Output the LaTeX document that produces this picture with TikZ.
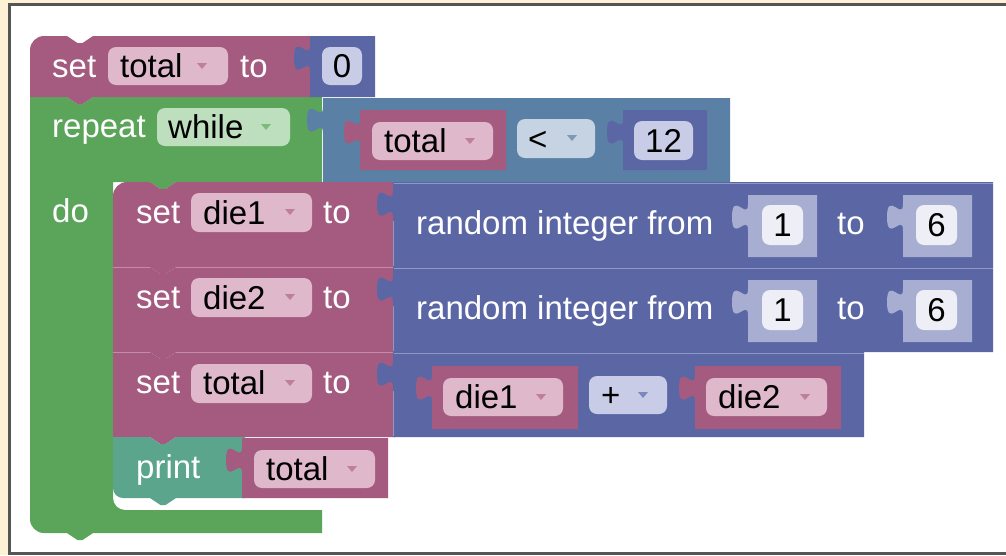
\documentclass[tikz,border=0pt]{standalone}
\usepackage{fontspec}
\setmainfont{Liberation Sans}
\definecolor{bgcream}{HTML}{FDF1D6}
\definecolor{frame}{HTML}{555555}
\definecolor{varc}{HTML}{A55B80}
\definecolor{varlight}{HTML}{C48AA6}
\definecolor{varfield}{HTML}{DFB8CB}
\definecolor{vararrow}{HTML}{BE7E9D}
\definecolor{mathc}{HTML}{5B67A5}
\definecolor{mathlight}{HTML}{8E97C6}
\definecolor{mathfield}{HTML}{C8CCE6}
\definecolor{matharrow}{HTML}{7C86BF}
\definecolor{logicc}{HTML}{5B80A5}
\definecolor{logicfield}{HTML}{C6D3E3}
\definecolor{logicarrow}{HTML}{7E99B8}
\definecolor{loopc}{HTML}{5BA55B}
\definecolor{loopfield}{HTML}{BEDFBE}
\definecolor{looparrow}{HTML}{7BBB7B}
\definecolor{textc}{HTML}{5BA58C}
\definecolor{shadowc}{HTML}{A8AED2}
\definecolor{shadowfield}{HTML}{EEEFF6}
\begin{document}
\begin{tikzpicture}[x=1pt,y=-1pt,
  font=\fontsize{33}{38}\selectfont,
  lbl/.style={anchor=base west, inner sep=0pt, text=white},
  fld/.style={anchor=base west, inner sep=0pt, text=black},
  num/.style={anchor=base, inner sep=0pt, text=black},
  fieldbox/.style={rounded corners=8pt},
  hilite/.style={line width=1pt},
  % notch cut into a top edge (left to right) / tab below a bottom edge (right to left)
  notch/.style n args={2}{insert path={-- (#1,#2) -- ({#1+10.5},{#2+7}) -- ({#1+15.5},{#2+7}) -- ({#1+26},#2)}},
  notchback/.style n args={2}{insert path={-- ({#1+26},#2) -- ({#1+15.5},{#2+7}) -- ({#1+10.5},{#2+7}) -- (#1,#2)}},
  % puzzle tab on the left edge of a value block, walked downward
  tab/.style n args={2}{insert path={-- (#1,#2) .. controls (#1,{#2+17.5}) and ({#1-16},{#2-14}) .. ({#1-16},{#2+13.1}) .. controls ({#1-16},{#2+40.25}) and (#1,{#2+8.75}) .. (#1,{#2+26.25})}},
]
\useasboundingbox (0,0) rectangle (1006,555);

% page
\fill[bgcream] (0,0) rectangle (1006,555);
\filldraw[fill=white, draw=frame, line width=3pt] (9.5,4.5) rectangle (1015,553.5);

% repeat while loop (C shape)
\fill[loopc] (30,97) [notch={67}{97}] -- (322,97) -- (322,182) [notchback={150}{182}] -- (113,182)
  -- (113,498) .. controls (113,504.6) and (118.4,510) .. (125,510) -- (322,510) -- (322,533)
  [notchback={67}{533}] -- (44,533) .. controls (36.3,533) and (30,526.7) .. (30,519) -- cycle;

% set total to 0
\fill[varc] (30,50) .. controls (30,42.3) and (36.3,36) .. (44,36) [notch={67}{36}] -- (312,36) -- (312,97)
  [notchback={67}{97}] -- (30,97) -- cycle;
\fill[mathc] (375,36) -- (310,36) [tab={310}{45}] -- (310,97) -- (375,97) -- cycle;
\fill[varfield, fieldbox] (108,47) rectangle (228,85);
\fill[vararrow] (197,63) -- (207,63) -- (202,69) -- cycle;
\fill[mathfield, fieldbox] (322,47) rectangle (362,85);
\node[lbl] (set0) at (52,77) {set};
\node[fld] (var0) at (120,77) {total};
\node[lbl] (to0) at (240,77) {to};
\node[num] (zero) at (342,77) {0};

% loop header
\fill[loopfield, fieldbox] (157,108) rectangle (290,146);
\fill[looparrow] (261,124) -- (271,124) -- (266,130) -- cycle;
\node[lbl] (repeat) at (52,137) {repeat};
\node[fld] (while) at (168,138) {while};
\node[lbl] (do) at (52,222) {do};

% condition: total < 12
\fill[logicc] (730,98) -- (323,98) [tab={323}{107}] -- (323,182) -- (730,182) -- cycle;
\fill[varc] (506,110) -- (360,110) [tab={360}{119}] -- (360,170) -- (506,170) -- cycle;
\fill[varfield, fieldbox] (372,122) rectangle (493,160);
\fill[vararrow] (465,138) -- (475,138) -- (470,144) -- cycle;
\fill[logicfield, fieldbox] (517,119) rectangle (595,158);
\fill[logicarrow] (567,135) -- (577,135) -- (572,141) -- cycle;
\fill[mathc] (707,110) -- (623,110) [tab={623}{119}] -- (623,170) -- (707,170) -- cycle;
\fill[mathfield, fieldbox] (634,121) rectangle (693,160);
\node[fld] (cmpvar) at (384,152) {total};
\node[fld] (lt) at (528,150) {<};
\node[num] (twelve) at (663.5,152) {12};

% set die1 / die2 to random integer from 1 to 6
\fill[varc] (113,196) .. controls (113,188.3) and (119.3,182) .. (127,182) [notch={150}{182}] -- (395,182) -- (395,267)
  [notchback={150}{267}] -- (113,267) -- cycle;
\fill[varc] (113,267) [notch={150}{267}] -- (395,267) -- (395,352) [notchback={150}{352}] -- (113,352) -- cycle;
\foreach \dy/\v in {0/1,85/2} {
  \fill[mathc] (993,182+\dy) -- (393,182+\dy) [tab={393}{191+\dy}] -- (393,267+\dy) -- (993,267+\dy) -- cycle;
  \draw[hilite, mathlight] (393.5,183+\dy) -- (993,183+\dy);
  \draw[hilite, mathlight] (393.5,221+\dy) -- (393.5,266+\dy);
  \fill[varfield, fieldbox] (191,193+\dy) rectangle (312,232+\dy);
  \fill[vararrow] (285,209+\dy) -- (295,209+\dy) -- (290,215+\dy) -- cycle;
  \fill[shadowc] (817,195+\dy) -- (748,195+\dy) [tab={748}{204+\dy}] -- (748,257+\dy) -- (817,257+\dy) -- cycle;
  \fill[shadowfield, fieldbox] (762,205+\dy) rectangle (803,245+\dy);
  \fill[shadowc] (972,195+\dy) -- (903,195+\dy) [tab={903}{204+\dy}] -- (903,257+\dy) -- (972,257+\dy) -- cycle;
  \fill[shadowfield, fieldbox] (916,205+\dy) rectangle (957,245+\dy);
  \node[lbl] (set\v) at (136,223+\dy) {set};
  \node[fld] (die\v) at (203,224+\dy) {die\v};
  \node[lbl] (to\v) at (323,223+\dy) {to};
  \node[lbl] (rand\v) at (416,234+\dy) {random integer from};
  \node[num] (lo\v) at (782.5,236+\dy) {1};
  \node[lbl] (tohi\v) at (837,234+\dy) {to};
  \node[num] (hi\v) at (936.5,236+\dy) {6};
}

% set total to die1 + die2
\fill[varc] (113,352) [notch={150}{352}] -- (395,352) -- (395,437) [notchback={150}{437}] -- (113,437) -- cycle;
\fill[mathc] (864,352) -- (393,352) [tab={393}{361}] -- (393,437) -- (864,437) -- cycle;
\draw[hilite, mathlight] (393.5,353) -- (864,353);
\draw[hilite, mathlight] (393.5,391) -- (393.5,436);
\draw[hilite, varlight] (113,267.5) -- (150,267.5) (176,267.5) -- (393,267.5);
\draw[hilite, varlight] (113,352.5) -- (150,352.5) (176,352.5) -- (393,352.5);
\fill[varfield, fieldbox] (191,364) rectangle (312,403);
\fill[vararrow] (285,380) -- (295,380) -- (290,386) -- cycle;
\fill[varc] (578,366) -- (432,366) [tab={432}{375}] -- (432,429) -- (578,429) -- cycle;
\fill[varfield, fieldbox] (443,378) rectangle (563,416);
\fill[vararrow] (536,394) -- (546,394) -- (541,400) -- cycle;
\fill[mathfield, fieldbox] (589,376) rectangle (667,414);
\fill[matharrow] (638,392) -- (648,392) -- (643,398) -- cycle;
\fill[varc] (841,366) -- (695,366) [tab={695}{375}] -- (695,429) -- (841,429) -- cycle;
\fill[varfield, fieldbox] (706,378) rectangle (827,416);
\fill[vararrow] (800,394) -- (810,394) -- (805,400) -- cycle;
\node[lbl] (set3) at (136,393) {set};
\node[fld] (total3) at (203,394) {total};
\node[lbl] (to3) at (323,393) {to};
\node[fld] (adda) at (455,408) {die1};
\node[fld] (plus) at (601,406) {+};
\node[fld] (addb) at (718,408) {die2};

% print total
\fill[textc] (113,437) [notch={150}{437}] -- (245,437) -- (245,498) [notchback={150}{498}] -- (123,498)
  .. controls (117.5,498) and (113,493.5) .. (113,488) -- cycle;
\fill[varc] (388,438) -- (242,438) [tab={242}{447}] -- (242,498) -- (388,498) -- cycle;
\fill[varfield, fieldbox] (254,450) rectangle (375,488);
\fill[vararrow] (347,466) -- (357,466) -- (352,472) -- cycle;
\node[lbl] (print) at (136,478) {print};
\node[fld] (ptotal) at (266,480) {total};
\end{tikzpicture}
\end{document}
